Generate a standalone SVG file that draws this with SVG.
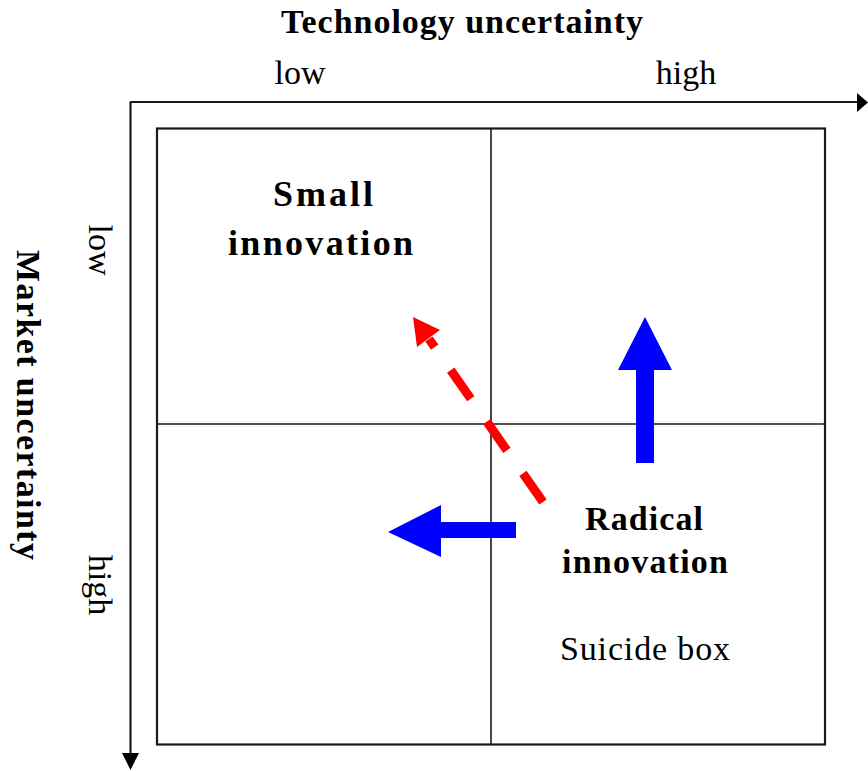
<svg xmlns="http://www.w3.org/2000/svg" width="868" height="771" viewBox="0 0 868 771">
<style>
.t{font-family:"Liberation Serif","Times New Roman",serif;fill:#000;font-size:34px}
.b{font-weight:bold}
.big{font-size:36px}
.ax{stroke:#1a1a1a;stroke-width:2.2;fill:none}
.grid{stroke:#1a1a1a;stroke-width:1.6;fill:none}
</style>
<rect width="868" height="771" fill="#fff"/>
<g id="axes">
<line class="ax" x1="130" y1="102" x2="859" y2="102"/>
<polygon points="857,93 868,102.5 857,112" fill="#000"/>
<line class="ax" x1="130.5" y1="102" x2="130.5" y2="756"/>
<polygon points="122,753 139,753 130.5,770" fill="#000"/>
</g>
<g id="grid">
<rect class="ax" x="157" y="128.5" width="668" height="616"/>
<line class="grid" x1="491" y1="128.5" x2="491" y2="744.5"/>
<line class="grid" x1="157" y1="424" x2="825" y2="424"/>
</g>
<g id="labels">
<text class="t b" x="462" y="33" text-anchor="middle" textLength="362" lengthAdjust="spacing">Technology uncertainty</text>
<text class="t" x="300" y="84" text-anchor="middle">low</text>
<text class="t" x="686" y="84" text-anchor="middle">high</text>
<text class="t b" transform="translate(17,405) rotate(90)" text-anchor="middle" textLength="310" lengthAdjust="spacing">Market uncertainty</text>
<text class="t" transform="translate(89,250) rotate(90)" text-anchor="middle">low</text>
<text class="t" transform="translate(89,585) rotate(90)" text-anchor="middle">high</text>
</g>
<g id="small-innovation">
<text class="t b big" x="323" y="206" text-anchor="middle" textLength="100" lengthAdjust="spacing">Small</text>
<text class="t b big" x="320.5" y="255" text-anchor="middle" textLength="185" lengthAdjust="spacing">innovation</text>
</g>
<g id="radical-innovation">
<text class="t b" x="644" y="530" text-anchor="middle" textLength="118" lengthAdjust="spacing">Radical</text>
<text class="t b" x="645" y="573" text-anchor="middle" textLength="166" lengthAdjust="spacing">innovation</text>
<text class="t" x="645" y="660" text-anchor="middle" textLength="170" lengthAdjust="spacing">Suicide box</text>
</g>
<g id="connectors">
<polygon points="636,463 654,463 654,370 672,370 645,317 618,370 636,370" fill="#0000ff"/>
<polygon points="516,522 516,538 441,538 441,557 388,532 441,505 441,522" fill="#0000ff"/>
<line x1="543" y1="502" x2="429" y2="339" stroke="#ff0000" stroke-width="9" stroke-dasharray="35 28"/>
<polygon points="413,317 440,330 417,347" fill="#ff0000"/>
</g>
</svg>
